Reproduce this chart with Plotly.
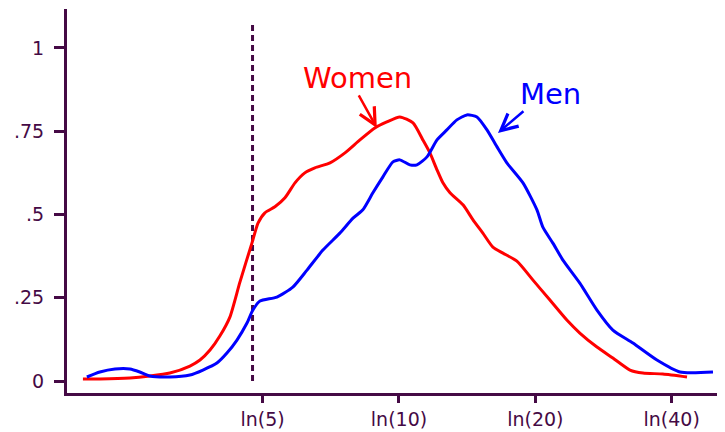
import numpy as np
import plotly.graph_objects as go

# ---- data (log hourly wage, density) ----
women_x = [0.696, 0.782, 0.935, 1.036, 1.138, 1.240, 1.291, 1.342, 1.392, 1.443, 1.494,
           1.555, 1.586, 1.621, 1.672, 1.723, 1.774, 1.824, 1.875, 1.952, 2.028, 2.104,
           2.180, 2.241, 2.307, 2.374, 2.424, 2.460, 2.496, 2.526, 2.562, 2.628, 2.679,
           2.729, 2.780, 2.831, 2.902, 2.984, 3.070, 3.156, 3.222, 3.309, 3.390, 3.477,
           3.543, 3.644, 3.767]
women_y = [0.006, 0.006, 0.009, 0.015, 0.024, 0.045, 0.063, 0.093, 0.135, 0.192, 0.297,
           0.414, 0.474, 0.505, 0.523, 0.550, 0.595, 0.625, 0.640, 0.655, 0.685, 0.724,
           0.760, 0.778, 0.793, 0.775, 0.724, 0.685, 0.634, 0.595, 0.565, 0.529, 0.484,
           0.444, 0.402, 0.384, 0.360, 0.303, 0.243, 0.183, 0.144, 0.102, 0.069, 0.033,
           0.024, 0.021, 0.012]

men_x = [0.716, 0.782, 0.859, 0.935, 0.985, 1.036, 1.138, 1.240, 1.306, 1.377, 1.428,
         1.479, 1.530, 1.560, 1.596, 1.682, 1.763, 1.835, 1.916, 2.002, 2.069, 2.119,
         2.170, 2.221, 2.272, 2.307, 2.358, 2.394, 2.445, 2.496, 2.546, 2.597, 2.648,
         2.699, 2.750, 2.801, 2.851, 2.933, 3.004, 3.034, 3.085, 3.136, 3.222, 3.309,
         3.390, 3.492, 3.614, 3.731, 3.899]
men_y = [0.012, 0.027, 0.036, 0.036, 0.027, 0.015, 0.012, 0.018, 0.033, 0.054, 0.084,
         0.123, 0.174, 0.213, 0.240, 0.252, 0.282, 0.333, 0.393, 0.444, 0.489, 0.514,
         0.565, 0.613, 0.658, 0.664, 0.649, 0.649, 0.673, 0.724, 0.754, 0.784, 0.799,
         0.793, 0.754, 0.703, 0.655, 0.595, 0.514, 0.462, 0.414, 0.363, 0.294, 0.213,
         0.153, 0.114, 0.063, 0.027, 0.027]

wage_ticks = [5, 10, 20, 40]
wage_tick_labels = ["ln(5)", "ln(10)", "ln(20)", "ln(40)"]
y_ticks = [0, 0.25, 0.5, 0.75, 1]
y_tick_labels = ["0", ".25", ".5", ".75", "1"]
min_wage = 4.75
min_wage_line_top = 1.078

AXIS = "#450a45"
FONT = "DejaVu Sans"

fig = go.Figure()
fig.add_trace(go.Scatter(x=[np.log(min_wage)] * 2, y=[0, min_wage_line_top], mode="lines",
                         line=dict(color=AXIS, width=3, dash="6px,4px"), hoverinfo="skip"))
fig.add_trace(go.Scatter(x=women_x, y=women_y, mode="lines", name="Women",
                         line=dict(color="#ff0000", width=3, shape="spline", smoothing=0.6)))
fig.add_trace(go.Scatter(x=men_x, y=men_y, mode="lines", name="Men",
                         line=dict(color="#0000ff", width=3, shape="spline", smoothing=0.6)))

# labels and arrows
fig.add_annotation(x=2.094, y=0.911, text="Women", showarrow=False,
                   font=dict(family=FONT, size=29, color="#ff0000"))
fig.add_annotation(x=2.190, y=0.760, ax=2.094, ay=0.862, axref="x", ayref="y",
                   text="", showarrow=True, arrowhead=5, arrowsize=1.3,
                   arrowwidth=2.5, arrowcolor="#ff0000")
fig.add_annotation(x=3.075, y=0.862, text="Men", showarrow=False,
                   font=dict(family=FONT, size=29, color="#0000ff"))
fig.add_annotation(x=2.806, y=0.745, ax=2.943, ay=0.814, axref="x", ayref="y",
                   text="", showarrow=True, arrowhead=5, arrowsize=1.3,
                   arrowwidth=2.5, arrowcolor="#0000ff")

# the page body has an 8px margin, so the figure is sized/offset to land in place
fig.update_layout(
    width=717, height=424,
    margin=dict(l=59, r=0, t=1, b=39),
    paper_bgcolor="white", plot_bgcolor="white",
    showlegend=False,
    font=dict(family=FONT, color=AXIS),
)
fig.update_xaxes(range=[0.615, 3.960], showgrid=False, zeroline=False, automargin=False,
                 showline=True, linecolor=AXIS, linewidth=3,
                 tickmode="array", tickvals=np.log(wage_ticks).tolist(), ticktext=wage_tick_labels,
                 ticks="outside", ticklen=7, tickwidth=3, tickcolor=AXIS,
                 tickfont=dict(family=FONT, size=19, color=AXIS))
fig.update_yaxes(range=[-0.036, 1.117], showgrid=False, zeroline=False, automargin=False,
                 showline=True, linecolor=AXIS, linewidth=3,
                 tickmode="array", tickvals=y_ticks, ticktext=y_tick_labels,
                 ticks="outside", ticklen=10, tickwidth=3, tickcolor=AXIS,
                 ticklabelstandoff=6,
                 tickfont=dict(family=FONT, size=19, color=AXIS))

fig.write_html("out.html")
